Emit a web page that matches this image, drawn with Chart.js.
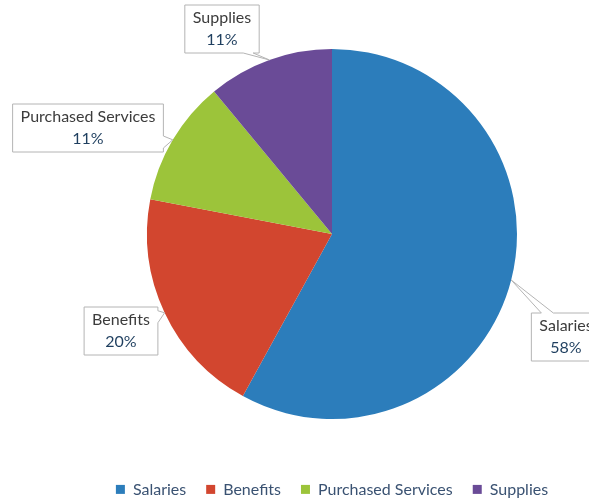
<!DOCTYPE html>
<html>
<head>
<meta charset="utf-8">
<script src="https://cdn.jsdelivr.net/npm/chart.js@4/dist/chart.umd.min.js"></script>
<style>
  html, body { margin: 0; padding: 0; background: #fff; }
  #wrap { width: 589px; height: 499px; }
</style>
</head>
<body>
<div id="wrap"><canvas id="costChart"></canvas></div>
<script>
// expense breakdown
const categories = ['Salaries', 'Benefits', 'Purchased Services', 'Supplies'];
const shares = [58, 20, 11, 11];
const sliceColors = ['#2c7dbb', '#d2462f', '#9cc43a', '#6a4b97'];

// where each callout box sits (centre, px) and which edge gets the pointer
const calloutBoxes = [
    { cx: 566, cy: 337, side: 'top' },
    { cx: 121, cy: 331, side: 'right' },
    { cx: 88, cy: 128, side: 'right' },
    { cx: 222, cy: 29, side: 'bottom' }
];

const FONT = 'Lato, "Open Sans", sans-serif';

const callouts = {
    id: 'callouts',
    afterDatasetsDraw(chart) {
        const ctx = chart.ctx;
        const meta = chart.getDatasetMeta(0);
        const total = shares.reduce((a, b) => a + b, 0);
        ctx.save();
        ctx.font = '16px ' + FONT;
        meta.data.forEach((arc, i) => {
            const p = arc.getProps(['x', 'y', 'startAngle', 'endAngle', 'outerRadius']);
            const mid = (p.startAngle + p.endAngle) / 2;
            const tip = { x: p.x + Math.cos(mid) * p.outerRadius, y: p.y + Math.sin(mid) * p.outerRadius };

            const name = categories[i];
            const pct = Math.round(shares[i] / total * 100) + '%';
            const w = Math.max(ctx.measureText(name).width, ctx.measureText(pct).width) + 16;
            const h = 48;
            const b = calloutBoxes[i];
            const l = b.cx - w / 2, t = b.cy - h / 2, r = l + w, btm = t + h;

            // box outline with a wedge pointing at the slice
            ctx.beginPath();
            ctx.moveTo(l, t);
            if (b.side === 'top') {
                const c = Math.min(Math.max(tip.x, l + 6), r - 20);
                ctx.lineTo(c + 4, t); ctx.lineTo(tip.x, tip.y); ctx.lineTo(c + 16, t);
            }
            ctx.lineTo(r, t);
            if (b.side === 'right') {
                const c = Math.min(Math.max(tip.y, t + 4), btm - 14);
                ctx.lineTo(r, c - 2); ctx.lineTo(tip.x, tip.y); ctx.lineTo(r, c + 10);
            }
            ctx.lineTo(r, btm);
            if (b.side === 'bottom') {
                const c = Math.min(Math.max(tip.x, l + 14), r - 4);
                ctx.lineTo(c - 2, btm); ctx.lineTo(tip.x, tip.y); ctx.lineTo(c - 12, btm);
            }
            ctx.lineTo(l, btm);
            ctx.closePath();
            ctx.fillStyle = '#ffffff';
            ctx.fill();
            ctx.strokeStyle = '#b4b4b4';
            ctx.lineWidth = 1;
            ctx.stroke();

            ctx.textAlign = 'center';
            ctx.textBaseline = 'middle';
            ctx.fillStyle = '#3c3c3c';
            ctx.fillText(name, b.cx, b.cy - 11);
            ctx.fillStyle = '#1f3f5f';
            ctx.fillText(pct, b.cx, b.cy + 11);
        });
        ctx.restore();
    }
};

new Chart(document.getElementById('costChart'), {
    type: 'pie',
    data: {
        labels: categories,
        datasets: [{
            data: shares,
            backgroundColor: sliceColors,
            borderWidth: 0
        }]
    },
    options: {
        responsive: true,
        maintainAspectRatio: false,
        animation: false,
        layout: { padding: { top: 49, left: 90, right: 15, bottom: 0 } },
        plugins: {
            tooltip: { enabled: false },
            legend: {
                position: 'bottom',
                maxHeight: 80,
                title: { display: true, text: ' ', font: { size: 12 }, padding: 14 },
                labels: {
                    boxWidth: 9,
                    boxHeight: 9,
                    padding: 20,
                    color: '#3a5272',
                    font: { family: FONT, size: 16 }
                }
            }
        }
    },
    plugins: [callouts]
});
</script>
</body>
</html>
